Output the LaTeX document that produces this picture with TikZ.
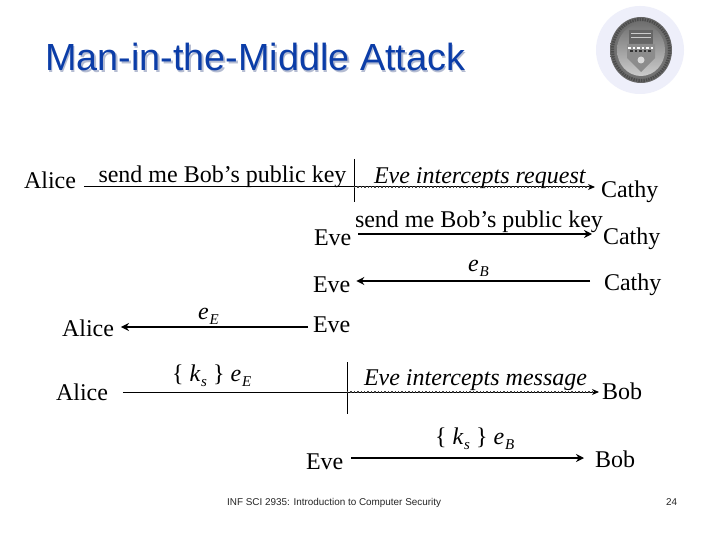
\documentclass[tikz,border=0pt]{standalone}
\usepackage{fontspec}
\setmainfont{Liberation Serif}
\newfontfamily\hvfont{Liberation Sans}
\usetikzlibrary{arrows.meta}
\definecolor{titleblue}{HTML}{0B3DA8}
\definecolor{titleshade}{HTML}{B4BCD2}
\definecolor{halo}{HTML}{EEEFFA}
\newcommand{\keysub}[2]{{\itshape #1}\kern1pt\raisebox{-5pt}{\fontsize{15}{16}\selectfont\itshape #2}}
\tikzset{
  lbl/.style={anchor=base west,inner sep=0pt,outer sep=0pt,font=\fontsize{24}{28}\selectfont},
  imsg/.style={lbl,font=\fontsize{24}{28}\selectfont\itshape},
  link/.style={draw=black,line width=1pt,-{Stealth[length=7pt,width=6pt]}},
  thick link/.style={draw=black,line width=2.2pt,-{Stealth[length=8pt,width=8pt]}},
  cutline/.style={draw=black,line width=.7pt},
  dotline/.style={draw=black!75,line width=1.4pt,dotted,line cap=butt},
  foot/.style={anchor=base west,inner sep=0pt,font=\hvfont\fontsize{9.9}{11}\selectfont,text=black!85},
  ttl/.style={anchor=base west,inner sep=0pt,font=\hvfont\fontsize{37.8}{42}\selectfont},
}
\begin{document}
\begin{tikzpicture}[x=1pt,y=-1pt]
\useasboundingbox (0,0) rectangle (720,540);
\fill[white] (0,0) rectangle (720,540);
% title
\node[ttl,text=titleshade] (titleshadow) at (46.5,72.5) {Man-in-the-Middle Attack};
\node[ttl,text=titleblue] (title) at (45,71) {Man-in-the-Middle Attack};
% seal
\fill[halo] (640,50) circle (44);
\shade[inner color=black!35,outer color=black!60] (641,50) ellipse (31 and 33);
\draw[black!70,line width=3pt,dash pattern=on 1.5pt off 1pt] (641,50) ellipse (28.5 and 30.5);
\shade[top color=black!55,bottom color=black!20] (641,50) ellipse (24 and 26);
\fill[black!60] (629,30) rectangle (653,44);
\draw[black!20,line width=1pt] (631,34) -- (651,34) (631,38) -- (651,38);
\fill[black!45] (627,44) -- (655,44) -- (655,58) -- (641,72) -- (627,58) -- cycle;
\draw[white,line width=2.5pt,dash pattern=on 2.5pt off 2pt] (628,48) -- (654,48);
\draw[black!80,line width=2.5pt,dash pattern=on 2.5pt off 2pt] (630,51) -- (652,51);
\fill[black!15] (641,60) circle (3.5);
% helper rows
\coordinate (r1) at (0,187);
\coordinate (r2) at (0,234);
\coordinate (r3) at (0,281);
\coordinate (r4) at (0,327);
\coordinate (r5) at (0,392);
\coordinate (r6) at (0,458);
% row 1
\node[lbl] (a1) at (24,189) {Alice};
\node[lbl] (c1) at (601,197) {Cathy};
\node[lbl] (m1) at (98.5,183) {send me Bob’s public key};
\node[imsg] (i1) at (374,184) {Eve intercepts request};
\coordinate (v1t) at (354,159);
\coordinate (v1b) at (354,202);
\draw[link] ([xshift=8pt]a1.east |- r1) -- ([xshift=-6pt]c1.west |- r1);
\draw[cutline] (v1t) -- (v1b);
\draw[dotline] (v1t |- r1) -- ([xshift=-12pt]c1.west |- r1);
% row 2
\node[lbl] (e2) at (314,245) {Eve};
\node[lbl] (c2) at (603,244) {Cathy};
\node[lbl] (m2) at (355,228) {send me Bob’s public key};
\draw[thick link] ([xshift=7pt]e2.east |- r2) -- ([xshift=-11pt]c2.west |- r2);
% row 3
\node[lbl] (e3) at (313,292) {Eve};
\node[lbl] (c3) at (604,290) {Cathy};
\node[lbl] (k3) at (468,271) {\keysub{e}{B}};
\draw[thick link] ([xshift=-14pt]c3.west |- r3) -- ([xshift=6pt]e3.east |- r3);
% row 4
\node[lbl] (a4) at (62,336) {Alice};
\node[lbl] (e4) at (313,332) {Eve};
\node[lbl] (k4) at (198,319) {\keysub{e}{E}};
\draw[thick link] ([xshift=-5pt]e4.west |- r4) -- ([xshift=7pt]a4.east |- r4);
% row 5
\node[lbl] (a5) at (56,400) {Alice};
\node[lbl] (b5) at (602,399) {Bob};
\node[lbl] (k5) at (172,381) {\{ \keysub{k}{s} \} \keysub{e}{E}};
\node[imsg] (i5) at (364,385) {Eve intercepts message};
\coordinate (v5t) at (347,362);
\coordinate (v5b) at (347,414);
\draw[link] ([xshift=15pt]a5.east |- r5) -- ([xshift=-3pt]b5.west |- r5);
\draw[cutline] (v5t) -- (v5b);
\draw[dotline] (v5t |- r5) -- ([xshift=-10pt]b5.west |- r5);
% row 6
\node[lbl] (e6) at (306,469) {Eve};
\node[lbl] (b6) at (595,467) {Bob};
\node[lbl] (k6) at (435,444) {\{ \keysub{k}{s} \} \keysub{e}{B}};
\draw[thick link] ([xshift=8pt]e6.east |- r6) -- ([xshift=-11pt]b6.west |- r6);
% footer
\node[foot] (f1) at (227,505) {INF SCI 2935: Introduction to Computer Security};
\node[foot] (f2) at (666,505) {24};
\end{tikzpicture}
\end{document}
